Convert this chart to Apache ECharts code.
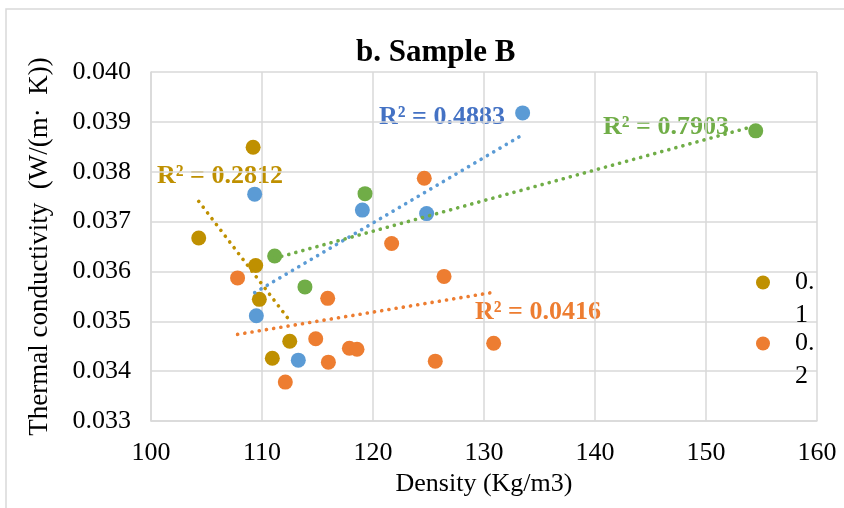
<!DOCTYPE html>
<html><head><meta charset="utf-8">
<script src="https://cdn.jsdelivr.net/npm/echarts@6/dist/echarts.min.js"></script>
<style>html,body{margin:0;padding:0;background:#fff}#c{width:844px;height:508px}</style>
</head><body><div id="c"></div>
<script>
// ---- data ----
const seriesNames = ['0.1', '0.2', '0.3', '0.4'];
const goldX = [109.2, 104.3, 109.43, 109.76, 112.5, 110.93];
const goldY = [0.03849, 0.03667, 0.03612, 0.03544, 0.03460, 0.03426];
const orangeX = [107.8, 115.92, 114.84, 117.87, 118.56, 115.98, 112.1, 124.62, 121.68, 126.4, 125.61, 130.87];
const orangeY = [0.03587, 0.03546, 0.03465, 0.03446, 0.03444, 0.03418, 0.03378, 0.03787, 0.03656, 0.03590, 0.03420, 0.03456];
const blueX = [109.34, 119.04, 124.83, 133.48, 109.49, 113.27];
const blueY = [0.03755, 0.03723, 0.03716, 0.03918, 0.03511, 0.03422];
const greenX = [119.28, 111.14, 113.87, 154.48];
const greenY = [0.03756, 0.03631, 0.03569, 0.03882];
const r2Labels = ['R² = 0.2812', 'R² = 0.0416', 'R² = 0.4883', 'R² = 0.7903'];
const xTicks = [100, 110, 120, 130, 140, 150, 160];
const yTicks = [0.033, 0.034, 0.035, 0.036, 0.037, 0.038, 0.039, 0.040];

const colors = ['#BF9000', '#ED7D31', '#5B9BD5', '#70AD47'];
const FONT = '"Liberation Serif", "Times New Roman", serif';

function pairs(xs, ys) { return xs.map((x, i) => [x, ys[i]]); }
function trend(xs, ys) {
  const n = xs.length;
  const mx = xs.reduce((a, b) => a + b, 0) / n, my = ys.reduce((a, b) => a + b, 0) / n;
  let sxy = 0, sxx = 0;
  for (let i = 0; i < n; i++) { sxy += (xs[i] - mx) * (ys[i] - my); sxx += (xs[i] - mx) ** 2; }
  const b = sxy / sxx, a = my - b * mx;
  const x0 = Math.min(...xs), x1 = Math.max(...xs);
  return [[x0, a + b * x0], [x1, a + b * x1]];
}
const groups = [[goldX, goldY], [orangeX, orangeY], [blueX, blueY], [greenX, greenY]];

const series = [];
groups.forEach((g, i) => {
  series.push({
    name: seriesNames[i], type: 'scatter', data: pairs(g[0], g[1]),
    symbol: 'circle', symbolSize: 15, itemStyle: { color: colors[i], opacity: 1 }, z: 2, silent: true
  });
});
groups.forEach((g, i) => {
  series.push({
    name: 'trend' + i, type: 'line', data: trend(g[0], g[1]), showSymbol: false, symbol: 'none',
    lineStyle: { color: colors[i], width: 3.6, type: [0.1, 7.2], cap: 'round' }, z: 3, silent: true
  });
});

const chart = echarts.init(document.getElementById('c'), null, { renderer: 'canvas' });
const legendBase = {
  orient: 'vertical', itemWidth: 14, itemHeight: 14, icon: 'circle', selectedMode: false,
  formatter: n => ' \n' + n.replace('.', '.\n'),
  textStyle: { fontFamily: FONT, fontSize: 26, color: '#000', lineHeight: 33, padding: [0, 0, 0, 20] }
};
chart.setOption({
  animation: false,
  backgroundColor: '#fff',
  title: {
    text: 'b. Sample B', left: 351, top: 32,
    textStyle: { fontFamily: FONT, fontSize: 31, fontWeight: 'bold', color: '#000' }
  },
  legend: [
    Object.assign({}, legendBase, { data: [seriesNames[0]], left: 751, top: 228 }),
    Object.assign({}, legendBase, { data: [seriesNames[1]], left: 751, top: 289 })
  ],
  grid: { left: 151, right: 27, top: 72, bottom: 87 },
  xAxis: {
    type: 'value', min: xTicks[0], max: xTicks[xTicks.length - 1], interval: 10,
    name: 'Density (Kg/m3)', nameLocation: 'middle', nameGap: 48,
    nameTextStyle: { fontFamily: FONT, fontSize: 26, color: '#000' },
    axisLine: { show: true, lineStyle: { color: '#D9D9D9', width: 1.5 } },
    axisTick: { show: false },
    axisLabel: { fontFamily: FONT, fontSize: 26, color: '#000', margin: 19 },
    splitLine: { show: true, lineStyle: { color: '#D9D9D9', width: 1.5 } }
  },
  yAxis: {
    type: 'value', min: yTicks[0], max: yTicks[yTicks.length - 1], interval: 0.001,
    name: 'Thermal conductivity  (W/(m·  K))', nameLocation: 'middle', nameGap: 98, nameRotate: 90,
    nameTextStyle: { fontFamily: FONT, fontSize: 27, color: '#000' },
    axisLine: { show: true, lineStyle: { color: '#D9D9D9', width: 1.5 } },
    axisTick: { show: false },
    axisLabel: { fontFamily: FONT, fontSize: 26, color: '#000', margin: 20, formatter: v => v.toFixed(3) },
    splitLine: { show: true, lineStyle: { color: '#D9D9D9', width: 1.5 } }
  },
  graphic: [
    { type: 'rect', shape: { x: 6, y: 9, width: 900, height: 600 }, style: { fill: null, stroke: '#D9D9D9', lineWidth: 1.5 }, silent: true, z: -1 },
    { type: 'text', x: 157, y: 176, style: { text: r2Labels[0], fill: colors[0], font: 'bold 26px ' + FONT, verticalAlign: 'middle' } },
    { type: 'text', x: 475, y: 312, style: { text: r2Labels[1], fill: colors[1], font: 'bold 26px ' + FONT, verticalAlign: 'middle' } },
    { type: 'text', x: 379, y: 117, style: { text: r2Labels[2], fill: '#4472C4', font: 'bold 26px ' + FONT, verticalAlign: 'middle' } },
    { type: 'text', x: 603, y: 127, style: { text: r2Labels[3], fill: colors[3], font: 'bold 26px ' + FONT, verticalAlign: 'middle' } }
  ],
  series: series
});
</script></body></html>
